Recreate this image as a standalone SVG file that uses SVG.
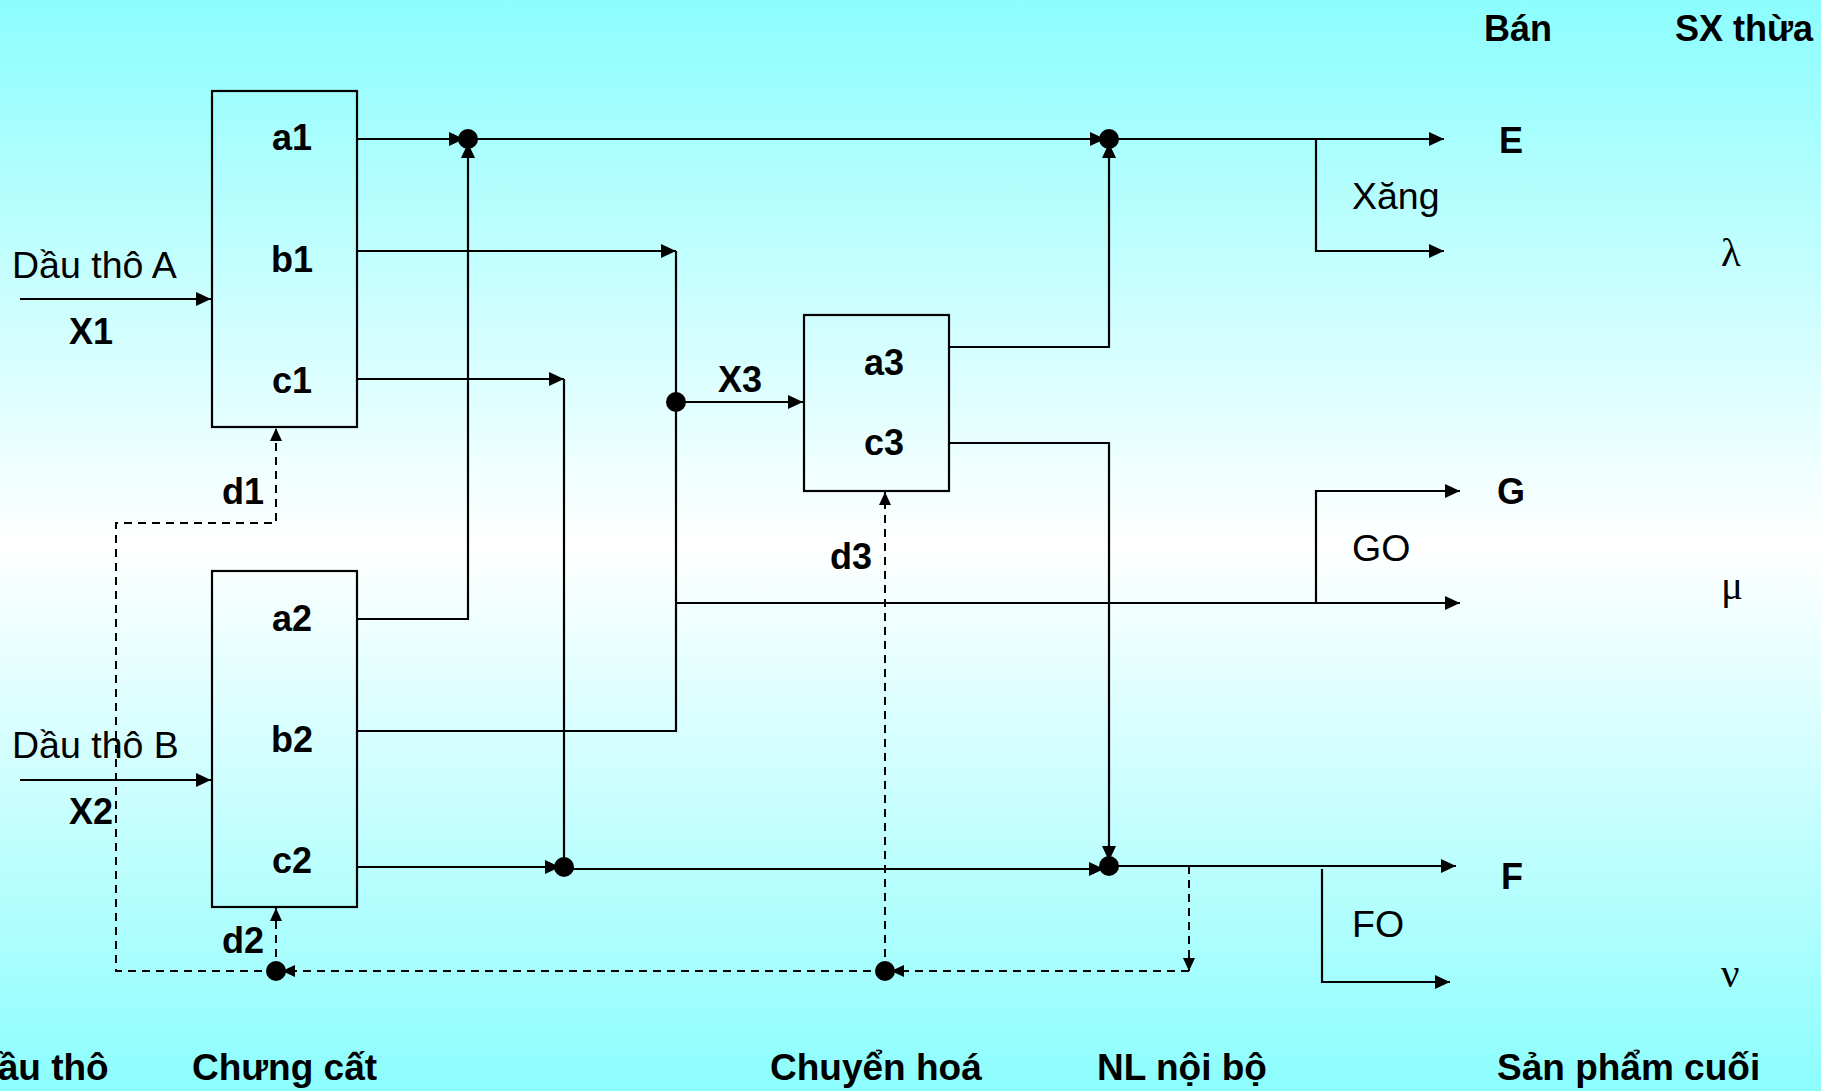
<svg xmlns="http://www.w3.org/2000/svg" width="1821" height="1091" viewBox="0 0 1821 1091">
<defs>
<linearGradient id="bg" x1="0" y1="0" x2="0" y2="1">
<stop offset="0" stop-color="#8CFDFD"/>
<stop offset="0.5" stop-color="#FFFFFF"/>
<stop offset="1" stop-color="#8CFDFD"/>
</linearGradient>
<marker id="ar" markerUnits="userSpaceOnUse" markerWidth="16" markerHeight="14" refX="15" refY="7" orient="auto">
<path d="M0,0 L15,7 L0,14 z" fill="#000"/>
</marker>
<marker id="ars" markerUnits="userSpaceOnUse" markerWidth="14" markerHeight="12" refX="13" refY="6" orient="auto">
<path d="M0,0 L13,6 L0,12 z" fill="#000"/>
</marker>
</defs>
<style>
.box{fill:none;stroke:#000;stroke-width:2.2}
.ln{fill:none;stroke:#000;stroke-width:2.2}
.da{fill:none;stroke:#000;stroke-width:2;stroke-dasharray:8 6}
.dot{fill:#000}
.b{font-family:"Liberation Sans",Arial,sans-serif;font-weight:bold;font-size:36px;fill:#000}
.h{font-family:"Liberation Sans",Arial,sans-serif;font-weight:bold;font-size:37px;fill:#000}
.r{font-family:"Liberation Sans",Arial,sans-serif;font-size:37.5px;fill:#000}
.g{font-family:"Liberation Serif","Times New Roman",serif;font-size:41px;fill:#000}
</style>
<rect x="0" y="0" width="1821" height="1091" fill="url(#bg)"/>

<g id="connectors">
<line class="ln" x1="20" y1="299" x2="211" y2="299" marker-end="url(#ar)"/>
<line class="ln" x1="20" y1="780" x2="211" y2="780" marker-end="url(#ar)"/>
<line class="ln" x1="357" y1="139" x2="464" y2="139" marker-end="url(#ar)"/>
<polyline class="ln" points="357,619 468,619 468,143" marker-end="url(#ar)"/>
<line class="ln" x1="468" y1="139" x2="1105" y2="139" marker-end="url(#ar)"/>
<polyline class="ln" points="949,347 1109,347 1109,143" marker-end="url(#ar)"/>
<line class="ln" x1="1109" y1="139" x2="1444" y2="139" marker-end="url(#ar)"/>
<polyline class="ln" points="1316,139 1316,251 1444,251" marker-end="url(#ar)"/>
<polyline class="ln" points="357,251 676,251" marker-end="url(#ar)"/>
<polyline class="ln" points="676,251 676,731 357,731"/>
<line class="ln" x1="676" y1="402" x2="803" y2="402" marker-end="url(#ar)"/>
<line class="ln" x1="676" y1="603" x2="1460" y2="603" marker-end="url(#ar)"/>
<polyline class="ln" points="1316,603 1316,491 1460,491" marker-end="url(#ar)"/>
<line class="ln" x1="357" y1="379" x2="564" y2="379" marker-end="url(#ar)"/>
<line class="ln" x1="564" y1="379" x2="564" y2="868"/>
<line class="ln" x1="357" y1="867" x2="560" y2="867" marker-end="url(#ar)"/>
<line class="ln" x1="564" y1="869" x2="1104" y2="869" marker-end="url(#ar)"/>
<polyline class="ln" points="949,443 1109,443 1109,861" marker-end="url(#ar)"/>
<line class="ln" x1="1109" y1="866" x2="1456" y2="866" marker-end="url(#ar)"/>
<polyline class="ln" points="1322,869 1322,982 1450,982" marker-end="url(#ar)"/>
<line class="da" x1="1189" y1="866" x2="1189" y2="971" marker-end="url(#ars)"/>
<line class="da" x1="1189" y1="971" x2="891" y2="971" marker-end="url(#ars)"/>
<line class="da" x1="885" y1="971" x2="282" y2="971" marker-end="url(#ars)"/>
<line class="da" x1="885" y1="971" x2="885" y2="492" marker-end="url(#ars)"/>
<line class="da" x1="276" y1="971" x2="276" y2="908" marker-end="url(#ars)"/>
<polyline class="da" points="276,971 116,971 116,523 276,523 276,428" marker-end="url(#ars)"/>
</g>

<g id="dots">
<circle class="dot" cx="468" cy="139" r="10"/>
<circle class="dot" cx="1109" cy="139" r="10"/>
<circle class="dot" cx="676" cy="402" r="10"/>
<circle class="dot" cx="564" cy="867" r="10"/>
<circle class="dot" cx="1109" cy="866" r="10"/>
<circle class="dot" cx="276" cy="971" r="10"/>
<circle class="dot" cx="885" cy="971" r="10"/>
</g>

<g id="node-A">
<rect class="box" x="212" y="91" width="145" height="336"/>
<text class="b" x="272" y="150">a1</text>
<text class="b" x="271" y="272">b1</text>
<text class="b" x="272" y="393">c1</text>
</g>
<g id="node-B">
<rect class="box" x="212" y="571" width="145" height="336"/>
<text class="b" x="272" y="631">a2</text>
<text class="b" x="271" y="752">b2</text>
<text class="b" x="272" y="873">c2</text>
</g>
<g id="node-3">
<rect class="box" x="804" y="315" width="145" height="176"/>
<text class="b" x="864" y="375">a3</text>
<text class="b" x="864" y="455">c3</text>
</g>

<g id="labels">
<text class="r" x="12" y="278">Dầu thô A</text>
<text class="b" x="69" y="344">X1</text>
<text class="r" x="12" y="758">Dầu thô B</text>
<text class="b" x="69" y="824">X2</text>
<text class="b" x="718" y="392">X3</text>
<text class="b" x="222" y="504">d1</text>
<text class="b" x="222" y="953">d2</text>
<text class="b" x="830" y="569">d3</text>
<text class="b" x="1484" y="41">Bán</text>
<text class="b" x="1675" y="41">SX thừa</text>
<text class="b" x="1499" y="153">E</text>
<text class="r" x="1352" y="209">Xăng</text>
<text class="g" x="1721" y="266">λ</text>
<text class="b" x="1497" y="504">G</text>
<text class="r" x="1352" y="561">GO</text>
<text class="g" x="1721" y="599">μ</text>
<text class="b" x="1501" y="889">F</text>
<text class="r" x="1352" y="937">FO</text>
<text class="g" x="1721" y="987">ν</text>
<text class="h" x="-29" y="1080">Dầu thô</text>
<text class="h" x="192" y="1080">Chưng cất</text>
<text class="h" x="770" y="1080">Chuyển hoá</text>
<text class="h" x="1097" y="1080">NL nội bộ</text>
<text class="h" x="1497" y="1080">Sản phẩm cuối</text>
</g>
</svg>
